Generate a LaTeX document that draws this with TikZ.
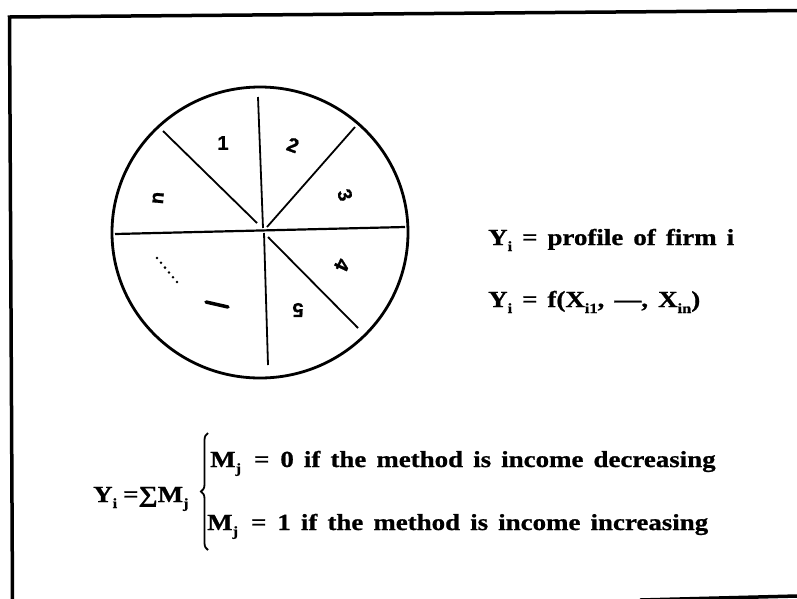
\documentclass[tikz,border=0pt]{standalone}
\usepackage{fontspec}
\setmainfont[FakeStretch=1.17,WordSpace=1.5,BoldFeatures={FakeBold=0.8}]{Liberation Serif}
\newfontfamily\lblfont[BoldFeatures={FakeBold=1}]{Liberation Sans}
\usetikzlibrary{decorations.pathreplacing,calc}
\newcommand\sbx[1]{\raisebox{-6pt}{\fontsize{14}{14}\selectfont #1}}
\begin{document}
\begin{tikzpicture}[x=1pt,y=-1pt,
  framel/.style={line width=3.5pt},
  spoke/.style={line width=1.8pt},
  rim/.style={line width=2.8pt},
  barmark/.style={line width=3.5pt, line cap=round},
  dotmark/.style={fill=black},
  eqtext/.style={font=\fontsize{23}{27}\selectfont\bfseries, inner sep=0pt, anchor=base west},
  seg/.style={font=\lblfont\fontsize{20}{20}\selectfont\bfseries, inner sep=0pt}]
\useasboundingbox (0,0) rectangle (797,598);
\fill[white] (0,0) rectangle (797,598);
% frame
\coordinate (ftr) at (797,10.5);
\coordinate (ftl) at (9.5,17);
\coordinate (fbl) at (12.5,600);
\coordinate (fb1) at (640,600);
\coordinate (fb2) at (797,596);
\draw[framel] (ftr) -- (ftl) -- (fbl);
\draw[framel] (fb1) -- (fb2);
% wheel
\coordinate (c) at (263,230);
\draw[rim] (260,232.5) ellipse [x radius=148pt, y radius=145.5pt];
\coordinate (vt) at (258,97);
\coordinate (vtc) at (263,228);
\coordinate (vbc) at (264,233);
\coordinate (vb) at (268,365);
\coordinate (hl) at (115,234);
\coordinate (hr) at (405,227);
\coordinate (ul) at (163,131);
\coordinate (ulc) at (257,223);
\coordinate (ur) at (355,127);
\coordinate (urc) at (267,227);
\coordinate (lrc) at (268,237);
\coordinate (lr) at (358,328);
\draw[spoke] (vt) -- (vtc);
\draw[spoke] (vbc) -- (vb);
\draw[spoke, line width=2.2pt] (hl) -- (hr);
\draw[spoke] (ul) -- (ulc);
\draw[spoke] (ur) -- (urc);
\draw[spoke] (lrc) -- (lr);
% sector labels
\node[seg] (l1) at (223,143) {1};
\node[seg, rotate=-20] (l2) at (293,145) {2};
\node[seg, rotate=-70] (l3) at (345,195) {3};
\node[seg, rotate=-115] (l4) at (342,265) {4};
\node[seg, rotate=180] (l5) at (298,310) {5};
\node[seg, rotate=85] (ln) at (158,198) {n};
% bar and dots in lower-left sector
\coordinate (b1) at (206,302);
\coordinate (b2) at (228,307);
\draw[barmark] (b1) -- (b2);
\coordinate (d0) at (157,258);
\coordinate (d5) at (177,282);
\foreach \k in {0,...,5} {
  \fill[dotmark] ($(d0)!\k/5!(d5)$) circle[radius=1.4pt];
}
% right equations
\node[eqtext] (p1) at (488,245) {Y\sbx{i}\hspace{10pt}=\hspace{10pt}profile of firm i};
\node[eqtext] (p2) at (488,307) {Y\sbx{i}\hspace{10pt}=\hspace{10pt}f(X\sbx{i1}, —, X\sbx{in})};
% bottom equation
\node[eqtext] (sum) at (93,502) {Y\sbx{i}\hspace{6pt}=∑M\sbx{j}};
\draw[line width=1.8pt, decorate, decoration={brace, amplitude=7pt}] (208,550) -- (208,433);
\node[eqtext] (m0) at (210,467) {M\sbx{j}\hspace{13pt}=\hspace{11pt}0 if the method is income decreasing};
\node[eqtext] (m1) at (207,530) {M\sbx{j}\hspace{13pt}=\hspace{11pt}1 if the method is income increasing};
\end{tikzpicture}
\end{document}
